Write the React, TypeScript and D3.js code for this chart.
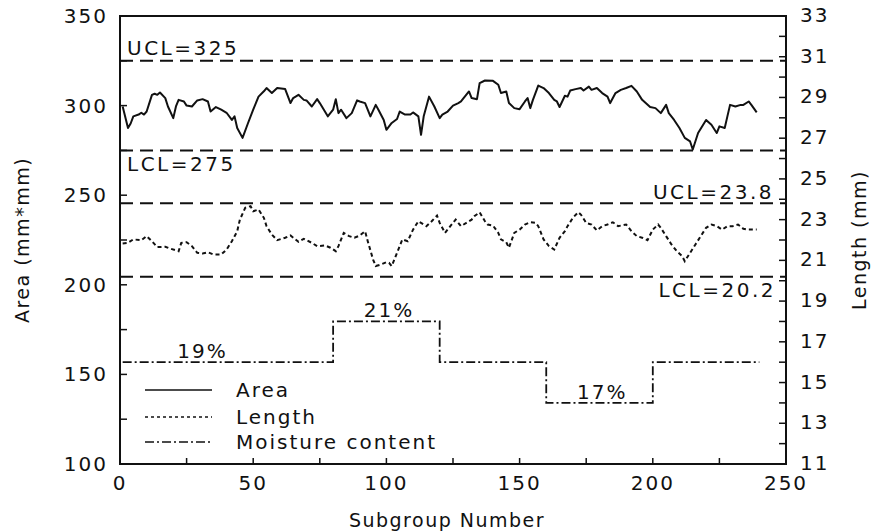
import React from 'react';
import * as d3 from 'd3';

// Subgroup index and mean area (mm*mm)
const areaSubgroups = [
  1, 3, 4, 5, 7, 8, 9, 10, 12, 13, 14, 15, 17, 18, 20, 21, 22, 24, 25, 27, 29, 31, 33, 34, 36, 38, 40, 42, 43, 44,
  46, 48, 50, 52, 54, 55, 57, 59, 62, 64, 65, 67, 69, 70, 72, 74, 75, 78, 80, 81, 82, 83, 85, 87, 89, 90, 92, 94,
  96, 97, 99, 100, 102, 104, 105, 107, 109, 110, 112, 113, 114, 116, 118, 120, 121, 123, 125, 127, 128, 131, 132,
  134, 135, 137, 140, 142, 143, 145, 146, 148, 150, 152, 153, 154, 155, 157, 159, 161, 163, 164, 165, 167, 168,
  169, 171, 173, 174, 176, 177, 179, 181, 183, 184, 186, 188, 190, 192, 194, 196, 199, 201, 203, 205, 206, 208,
  210, 212, 214, 215, 217, 220, 222, 224, 225, 227, 228, 229, 231, 233, 234, 236, 237, 239,
];
const areaValues = [
  299.5, 287.5, 290, 294, 295, 296, 295, 296.7, 306, 306.6, 306, 307.3, 304.2, 299.5, 293, 299.5, 303.2, 302.3,
  300, 299.5, 302.9, 303.6, 302.3, 296.7, 299.2, 297.7, 296, 292, 294, 287.5, 282, 290, 297.7, 305, 308, 309.8,
  307, 309.8, 309.2, 301.4, 304.2, 306, 303.2, 302.9, 299.5, 303.6, 301.4, 294, 297.7, 303.6, 295.8, 297.7, 293,
  295.8, 302.9, 302.3, 301.4, 294, 300.4, 297.7, 292, 286.5, 290.3, 292.5, 296.7, 295, 295, 296.2, 294, 283.7,
  294, 305, 299.5, 293, 295, 296.7, 300, 301.4, 302.3, 307.9, 304.2, 303.6, 312.5, 314, 313.8, 311.6, 307,
  307.9, 301.4, 298.6, 298, 302.3, 304.2, 298.6, 303.2, 311.2, 309.8, 307, 303.2, 302.3, 299.2, 305.5, 305,
  308.4, 309.2, 309.8, 308.4, 310.6, 308.8, 309.8, 307, 305, 301.4, 307, 308.8, 309.8, 311, 307.9, 303.2, 299.2,
  298.6, 295.8, 300.4, 295.8, 292, 287.5, 282, 280, 275.5, 284.7, 292, 289.3, 284.7, 288.4, 287.5, 294, 300.4,
  299.5, 300.4, 300.4, 302.3, 300.4, 296.2,
];

// Subgroup index and mean length (mm)
const lengthSubgroups = [
  1, 3, 5, 8, 10, 12, 14, 17, 19, 22, 23, 25, 27, 29, 31, 33, 35, 38, 40, 42, 44, 45, 47, 49, 50, 52, 54, 55, 57,
  59, 62, 64, 67, 69, 72, 74, 77, 79, 81, 82, 84, 86, 88, 90, 92, 93, 95, 96, 98, 100, 101, 102, 104, 106, 108,
  110, 112, 113, 115, 117, 119, 120, 122, 124, 126, 128, 130, 132, 133, 135, 137, 138, 140, 142, 143, 145, 146,
  148, 150, 152, 154, 156, 157, 159, 161, 163, 165, 167, 168, 170, 172, 173, 175, 177, 179, 181, 183, 185, 187,
  190, 192, 194, 196, 198, 200, 202, 203, 205, 207, 209, 211, 212, 214, 216, 218, 220, 222, 224, 226, 228, 230,
  232, 234, 236, 239,
];
const lengthValues = [
  21.83, 21.86, 22.03, 21.99, 22.19, 21.94, 21.65, 21.67, 21.57, 21.45, 21.86, 21.89, 21.7, 21.37, 21.34, 21.4,
  21.29, 21.29, 21.53, 21.94, 22.43, 23.0, 23.58, 23.66, 23.41, 23.5, 23.09, 22.68, 22.27, 21.99, 22.11, 22.22,
  21.91, 22.06, 21.86, 21.7, 21.73, 21.62, 21.45, 21.7, 22.35, 22.19, 22.11, 22.22, 22.43, 21.94, 21.04, 20.72,
  20.8, 20.91, 20.88, 20.72, 21.37, 22.03, 21.94, 22.51, 22.92, 22.84, 22.68, 22.92, 23.2, 22.84, 22.35, 22.68,
  23.0, 22.68, 22.84, 23.0, 23.17, 23.36, 22.92, 22.76, 22.71, 22.35, 22.03, 21.89, 21.62, 22.35, 22.51, 22.76,
  22.87, 22.84, 22.68, 22.03, 21.7, 21.53, 22.11, 22.43, 22.68, 23.09, 23.36, 23.25, 22.84, 22.76, 22.47, 22.68,
  22.76, 22.87, 22.68, 22.76, 22.43, 22.19, 22.11, 21.99, 22.51, 22.76, 22.6, 22.19, 21.78, 21.45, 21.21, 20.96,
  21.37, 21.78, 22.19, 22.6, 22.76, 22.68, 22.51, 22.68, 22.68, 22.76, 22.55, 22.51, 22.51,
];

// Moisture content (%) held from each break to the next
const moistureBreaks = [1, 80, 120, 160, 200, 240];
const moistureLevels = [19, 21, 19, 17, 19, 19];
const moistureLabelText = ['19%', '21%', '17%'];
const moistureLabelAt = [31, 101, 181];
const moistureLabelLevel = [19, 21, 17];

// Control limits
const areaLimitValues = [325, 275];
const areaLimitText = ['UCL=325', 'LCL=275'];
const lengthLimitValues = [23.8, 20.2];
const lengthLimitText = ['UCL=23.8', 'LCL=20.2'];

// Axis ticks
const xTickLabels = [0, 50, 100, 150, 200, 250];
const xMinorTicks = [25, 75, 125, 175, 225];
const areaTickLabels = [100, 150, 200, 250, 300, 350];
const areaMinorTicks = [125, 175, 225, 275, 325];
const lengthTickLabels = [11, 13, 15, 17, 19, 21, 23, 25, 27, 29, 31, 33];
const lengthMinorTicks = [12, 14, 16, 18, 20, 22, 24, 26, 28, 30, 32];

const legendNames = ['Area', 'Length', 'Moisture content'];

const W = 878;
const H = 532;
const L = 120;
const R = 786;
const T = 16;
const B = 464;
const INK = '#111';
const FONT = '"DejaVu Sans", sans-serif';

const x = d3.scaleLinear().domain([0, 250]).range([L, R]);
const yArea = d3.scaleLinear().domain([100, 350]).range([B, T]);
const yLength = d3.scaleLinear().domain([11, 33]).range([B, T]);
// moisture shares the length scale spacing, offset by 3 %
const yMoist = d3.scaleLinear().domain([14, 36]).range([B, T]);

const dashControl = '13 7';
const dashLength = '4 3';
const dashMoist = '9 3 2 3';

export default function App() {
  const areaLine = d3
    .line<number>()
    .x((_, i) => x(areaSubgroups[i]))
    .y((d) => yArea(d));
  const lengthLine = d3
    .line<number>()
    .x((_, i) => x(lengthSubgroups[i]))
    .y((d) => yLength(d));
  const moistLine = d3
    .line<number>()
    .x((_, i) => x(moistureBreaks[i]))
    .y((d) => yMoist(d))
    .curve(d3.curveStepAfter);

  const txt = { fontFamily: FONT, fill: INK } as const;
  const legendY = [390, 417, 442];
  const legendDash = [undefined, '3 3', dashMoist];

  return (
    <svg width={W} height={H} style={{ position: 'absolute', left: 0, top: 0, background: '#fff' }}>
      {/* control limits */}
      {areaLimitValues.map((v) => (
        <line key={'a' + v} x1={L} x2={R} y1={yArea(v)} y2={yArea(v)} stroke={INK} strokeWidth={2} strokeDasharray={dashControl} />
      ))}
      {lengthLimitValues.map((v) => (
        <line key={'l' + v} x1={L} x2={R} y1={yLength(v)} y2={yLength(v)} stroke={INK} strokeWidth={2} strokeDasharray={dashControl} />
      ))}
      <text x={127} y={yArea(areaLimitValues[0]) - 6} fontSize={20} letterSpacing={2.5} {...txt}>
        {areaLimitText[0]}
      </text>
      <text x={127} y={yArea(areaLimitValues[1]) + 21} fontSize={20} letterSpacing={2.5} {...txt}>
        {areaLimitText[1]}
      </text>
      <text x={774} y={yLength(lengthLimitValues[0]) - 4} fontSize={20} letterSpacing={2.5} textAnchor="end" {...txt}>
        {lengthLimitText[0]}
      </text>
      <text x={776} y={yLength(lengthLimitValues[1]) + 20} fontSize={20} letterSpacing={2.5} textAnchor="end" {...txt}>
        {lengthLimitText[1]}
      </text>

      {/* series */}
      <path d={areaLine(areaValues) || ''} fill="none" stroke={INK} strokeWidth={2} strokeLinejoin="round" />
      <path d={lengthLine(lengthValues) || ''} fill="none" stroke={INK} strokeWidth={2} strokeDasharray={dashLength} />
      <path d={moistLine(moistureLevels) || ''} fill="none" stroke={INK} strokeWidth={1.8} strokeDasharray={dashMoist} />
      {moistureLabelText.map((t, i) => (
        <text key={t + i} x={x(moistureLabelAt[i])} y={yMoist(moistureLabelLevel[i]) - 4} fontSize={20} letterSpacing={2} textAnchor="middle" {...txt}>
          {t}
        </text>
      ))}

      {/* legend */}
      {legendNames.map((n, i) => (
        <g key={n}>
          <line x1={145} x2={212} y1={legendY[i]} y2={legendY[i]} stroke={INK} strokeWidth={1.5} strokeDasharray={legendDash[i]} />
          <text x={236} y={legendY[i] + 7} fontSize={20} letterSpacing={2} {...txt}>
            {n}
          </text>
        </g>
      ))}

      {/* frame */}
      <rect x={L} y={T} width={R - L} height={B - T} fill="none" stroke={INK} strokeWidth={2} />

      {/* bottom axis */}
      {xTickLabels.concat(xMinorTicks).map((v) => (
        <line key={'xt' + v} x1={x(v)} x2={x(v)} y1={B} y2={B - 6} stroke={INK} strokeWidth={1.5} />
      ))}
      {xTickLabels.map((v) => (
        <text key={'xl' + v} x={x(v)} y={B + 26} fontSize={20} letterSpacing={2} textAnchor="middle" {...txt}>
          {v}
        </text>
      ))}
      <text x={(L + R) / 2 - 6} y={527} fontSize={19} letterSpacing={1.5} textAnchor="middle" {...txt}>
        Subgroup Number
      </text>

      {/* left axis */}
      {areaTickLabels.concat(areaMinorTicks).map((v) => (
        <line key={'at' + v} x1={L} x2={L + 7} y1={yArea(v)} y2={yArea(v)} stroke={INK} strokeWidth={1.5} />
      ))}
      {areaTickLabels.map((v) => (
        <text key={'al' + v} x={108} y={yArea(v) + 7} fontSize={20} letterSpacing={2} textAnchor="end" {...txt}>
          {v}
        </text>
      ))}
      <text transform={`translate(29,${(T + B) / 2}) rotate(-90)`} fontSize={19} letterSpacing={1.5} textAnchor="middle" {...txt}>
        Area (mm*mm)
      </text>

      {/* right axis */}
      {lengthTickLabels.concat(lengthMinorTicks).map((v) => (
        <line key={'lt' + v} x1={R} x2={R - 7} y1={yLength(v)} y2={yLength(v)} stroke={INK} strokeWidth={1.5} />
      ))}
      {lengthTickLabels.map((v) => (
        <text key={'ll' + v} x={800} y={yLength(v) + 6} fontSize={20} letterSpacing={2} {...txt}>
          {v}
        </text>
      ))}
      <text transform={`translate(866,${(T + B) / 2}) rotate(-90)`} fontSize={19} letterSpacing={1.5} textAnchor="middle" {...txt}>
        Length (mm)
      </text>
    </svg>
  );
}
